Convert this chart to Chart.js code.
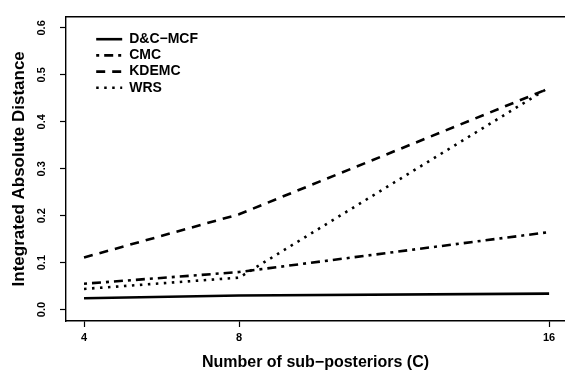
<!DOCTYPE html>
<html>
<head>
<meta charset="utf-8">
<script src="https://cdn.jsdelivr.net/npm/chart.js@4"></script>
<style>
  html, body { margin: 0; padding: 0; background: #fff; }
  #wrap { width: 565px; height: 377px; }
</style>
</head>
<body>
<div id="wrap"><canvas id="myChart" width="565" height="377"></canvas></div>
<script>
// data
const subPosteriors = [4, 8, 16];
const dcMcf = [0.024, 0.030, 0.034];
const cmc = [0.055, 0.080, 0.165];
const kdemc = [0.111, 0.203, 0.471];
const wrs = [0.044, 0.068, 0.473];
const yTicks = [0, 0.1, 0.2, 0.3, 0.4, 0.5, 0.6];

const FONT = "'Liberation Sans', Arial, sans-serif";

const toPoints = (vals) => subPosteriors.map((x, i) => ({x, y: vals[i]}));

const line = (label, vals, dash) => ({
  label,
  data: toPoints(vals),
  borderColor: '#000',
  backgroundColor: '#000',
  borderWidth: 2.6,
  borderDash: dash,
  borderCapStyle: 'butt',
  pointRadius: 0,
  tension: 0
});

// keep the legend inside the plot, top left, like the original
const legendInside = {
  id: 'legendInside',
  beforeLayout(chart) {
    const lg = chart.legend;
    if (lg && !lg.__inside) {
      const fit = lg.fit;
      lg.fit = function () { fit.call(this); this.width = 0; };
      lg.__inside = true;
    }
  },
  afterLayout(chart) {
    const lg = chart.legend;
    lg.left = 94; lg.right = 260;
    lg.top = 30; lg.bottom = 110;
  }
};

const ticksGrid = { display: true, drawOnChartArea: false, drawTicks: true, tickLength: 6, tickWidth: 1.2, tickColor: '#000' };

new Chart(document.getElementById('myChart'), {
  type: 'line',
  data: {
    datasets: [
      line('D&C\u2212MCF', dcMcf, []),
      line('CMC', cmc, [3, 5, 9, 5]),
      line('KDEMC', kdemc, [9, 7]),
      line('WRS', wrs, [2.5, 5.5])
    ]
  },
  options: {
    responsive: false,
    animation: false,
    layout: { padding: { left: 0, right: 0, top: 9, bottom: 0 } },
    plugins: {
      tooltip: { enabled: false },
      legend: {
        position: 'left',
        align: 'start',
        labels: {
          usePointStyle: true,
          pointStyle: 'line',
          pointStyleWidth: 26,
          boxHeight: 14,
          padding: 2.2,
          color: '#000',
          font: { family: FONT, size: 14, weight: 'bold' },
          generateLabels(chart) {
            const items = Chart.defaults.plugins.legend.labels.generateLabels(chart);
            items.forEach((it) => {
              const ds = chart.data.datasets[it.datasetIndex];
              it.lineDash = ds.borderDash;
              it.lineWidth = ds.borderWidth;
              it.lineCap = 'butt';
              it.strokeStyle = '#000';
            });
            return items;
          }
        }
      }
    },
    scales: {
      x: {
        type: 'linear',
        min: 3.535,
        max: 16.41,
        afterBuildTicks(s) { s.ticks = subPosteriors.map(v => ({value: v})); },
        afterFit(s) { s.height = 56; },
        grid: ticksGrid,
        border: { display: true, color: '#000', width: 1.4 },
        ticks: {
          color: '#000',
          padding: 4,
          maxRotation: 0,
          font: { family: FONT, size: 11, weight: 'bold' },
          callback: (v) => String(v)
        },
        title: {
          display: true,
          text: 'Number of sub\u2212posteriors (C)',
          color: '#000',
          font: { family: FONT, size: 16, weight: 'bold' },
          padding: { top: 0, bottom: 5 }
        }
      },
      xTop: {
        type: 'linear',
        position: 'top',
        min: 3.535,
        max: 16.41,
        afterFit(s) { s.height = 0; },
        ticks: { display: false },
        grid: { display: false, drawTicks: false },
        border: { display: true, color: '#000', width: 1.4 }
      },
      y: {
        type: 'linear',
        min: -0.0243,
        max: 0.624,
        afterBuildTicks(s) { s.ticks = yTicks.map(v => ({value: v})); },
        afterFit(s) { s.width = 66; },
        grid: ticksGrid,
        border: { display: true, color: '#000', width: 1.4 },
        ticks: {
          color: '#000',
          padding: 10,
          minRotation: 90,
          maxRotation: 90,
          crossAlign: 'center',
          font: { family: FONT, size: 11, weight: 'bold' },
          callback: (v) => v.toFixed(1)
        },
        title: {
          display: true,
          text: 'Integrated Absolute Distance',
          color: '#000',
          font: { family: FONT, size: 17, weight: 'bold' },
          padding: { top: 9, bottom: 0 }
        }
      }
    }
  },
  plugins: [legendInside]
});
</script>
</body>
</html>
